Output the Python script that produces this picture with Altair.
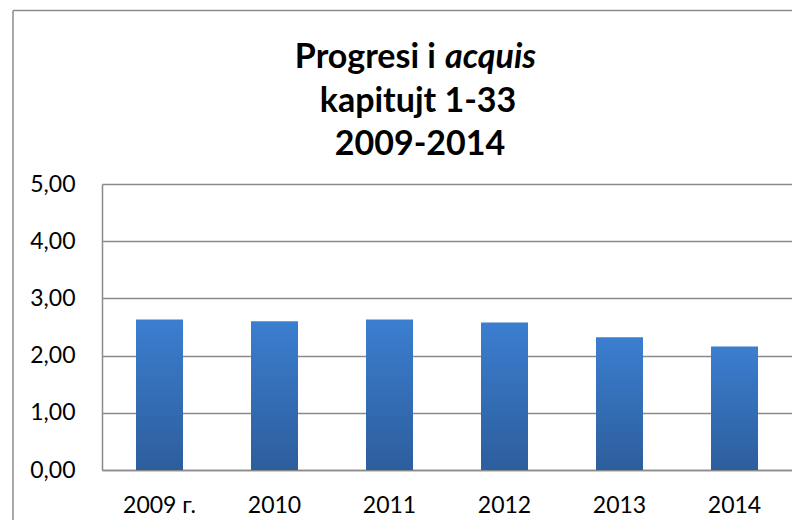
import altair as alt
import pandas as pd

years = ["2009 г.", "2010", "2011", "2012", "2013", "2014"]
values = [2.63, 2.60, 2.63, 2.58, 2.32, 2.16]
title_line1a = "Progresi i"
title_line1b = "acquis"
title_line2 = "kapitujt 1-33"
title_line3 = "2009-2014"

df = pd.DataFrame({"year": years, "value": values})

W, H = 690, 286
FONT = "Lato"
GRID = "#8a8a8a"

grad = alt.Gradient(
    gradient="linear",
    stops=[alt.GradientStop(color="#3b7ed0", offset=0),
           alt.GradientStop(color="#2d5e9c", offset=1)],
    x1=0, x2=0, y1=0, y2=1,
)

bars = alt.Chart(df).mark_bar(size=47, color=grad).encode(
    x=alt.X("year:N", sort=years,
            scale=alt.Scale(paddingInner=0, paddingOuter=0),
            axis=alt.Axis(title=None, labelAngle=0, ticks=False, grid=False,
                          domainColor=GRID, domainWidth=1.5,
                          labelFont=FONT, labelFontSize=23, labelColor="#000000",
                          labelPadding=24)),
    y=alt.Y("value:Q", scale=alt.Scale(domain=[0, 5]),
            axis=alt.Axis(title=None, values=[0, 1, 2, 3, 4, 5], ticks=False,
                          grid=True, gridColor=GRID, gridWidth=1.5,
                          domainColor=GRID, domainWidth=1.5,
                          labelFont=FONT, labelFontSize=23, labelColor="#000000",
                          labelPadding=27,
                          labelExpr="replace(format(datum.value, '.2f'), '.', ',')")),
)

def txt(s, x, y, align="center", style="normal"):
    return alt.Chart(pd.DataFrame({"t": [s]})).mark_text(
        font=FONT, fontSize=34, fontWeight="bold", fontStyle=style,
        align=align, baseline="alphabetic", color="#000000",
    ).encode(x=alt.value(x), y=alt.value(y), text="t:N")

t1a = txt(title_line1a, 334, -116, align="right")
t1b = txt(title_line1b, 343, -116, align="left", style="italic")
t2 = txt(title_line2, 316, -72)
t3 = txt(title_line3, 318, -29)

one = pd.DataFrame({"a": [0]})
frame_top = alt.Chart(one).mark_rule(color="#8c8c8c", strokeWidth=1.5).encode(
    x=alt.value(-89), x2=alt.value(W + 30), y=alt.value(-173.5))
frame_left = alt.Chart(one).mark_rule(color="#8c8c8c", strokeWidth=1.5).encode(
    x=alt.value(-89), y=alt.value(-173.5), y2=alt.value(H + 80))

chart = alt.layer(frame_top, frame_left, bars, t1a, t1b, t2, t3).properties(
    width=W, height=H,
    autosize=alt.AutoSizeParams(type="none"),
    padding={"left": 94, "top": 176, "right": 0, "bottom": 50},
    background="#ffffff",
).configure_view(strokeWidth=0)

chart.save("out.html", embed_options={"renderer": "svg", "actions": False})
